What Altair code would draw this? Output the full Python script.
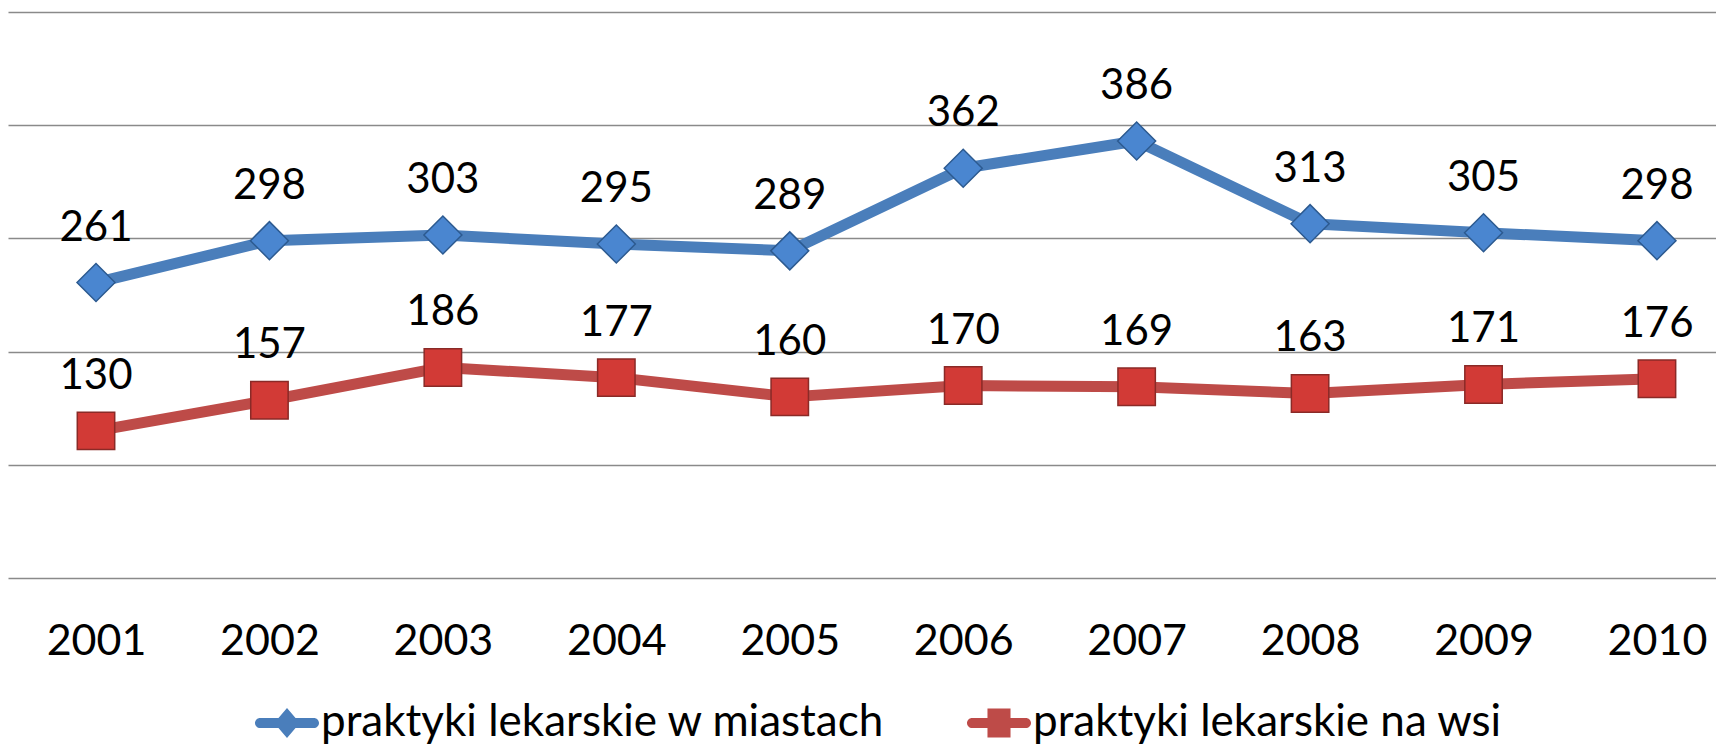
import altair as alt
import pandas as pd

years = [2001, 2002, 2003, 2004, 2005, 2006, 2007, 2008, 2009, 2010]
miasta = [261, 298, 303, 295, 289, 362, 386, 313, 305, 298]
wies = [130, 157, 186, 177, 160, 170, 169, 163, 171, 176]
series_names = ["praktyki lekarskie w miastach", "praktyki lekarskie na wsi"]
grid_values = [0, 100, 200, 300, 400, 500]

rows = []
for y, v in zip(years, miasta):
    rows.append({"year": y, "value": v, "series": series_names[0]})
for y, v in zip(years, wies):
    rows.append({"year": y, "value": v, "series": series_names[1]})
df = pd.DataFrame(rows)

BLUE_LINE = "#4A7EBB"
RED_LINE = "#BE4B48"
BLUE_FILL = "#4A86D0"
BLUE_EDGE = "#2C5A90"
RED_FILL = "#D23A36"
RED_EDGE = "#8A2A27"

FONT = "Lato"

x_dom = [2000.4926, 2010.3404]

base = alt.Chart(df).encode(
    x=alt.X(
        "year:Q",
        scale=alt.Scale(domain=x_dom, nice=False, zero=False),
        axis=alt.Axis(
            values=years, format="d", labelFont=FONT, labelFontSize=43,
            labelColor="black", ticks=False, tickSize=0, domain=False,
            grid=False, labelPadding=42, title=None, labelFlush=False,
            labelOverlap=False,
        ),
    ),
    y=alt.Y(
        "value:Q",
        scale=alt.Scale(domain=[0, 500], nice=False),
        axis=alt.Axis(
            values=grid_values, labels=False, ticks=False, domain=False,
            grid=True, gridColor="#8a8a8a", gridWidth=1.5, title=None,
        ),
    ),
)

line_path = "M-0.84,-0.16L0.84,-0.16A0.16,0.16,0,0,1,0.84,0.16L-0.84,0.16A0.16,0.16,0,0,1,-0.84,-0.16Z"
diamond_sym = line_path + "M0,-0.47L0.4,0L0,0.47L-0.4,0Z"
square_sym = line_path + "M-0.36,-0.45L0.36,-0.45L0.36,0.45L-0.36,0.45Z"

color_scale = alt.Scale(domain=series_names, range=[BLUE_LINE, RED_LINE])

legend = alt.Legend(
    title=None, orient="none", legendX=247, legendY=679, direction="horizontal",
    labelFont=FONT, labelFontSize=44, labelColor="black", symbolSize=4096,
    labelOffset=2, columnPadding=81, padding=0, labelLimit=1000,
    symbolStrokeWidth=0, symbolOpacity=1,
)

lines = base.mark_line(strokeWidth=11, strokeJoin="round").encode(
    color=alt.Color("series:N", scale=color_scale, legend=legend),
    detail="series:N",
)

legend_layer = base.transform_filter("false").mark_point(
    filled=True, opacity=1, strokeWidth=0,
).encode(
    color=alt.Color("series:N", scale=color_scale, legend=legend),
    shape=alt.Shape(
        "series:N",
        scale=alt.Scale(domain=series_names, range=[diamond_sym, square_sym]),
        legend=legend,
    ),
)

pts_blue = base.transform_filter(alt.datum.series == series_names[0]).mark_point(
    shape="diamond", filled=True, fill=BLUE_FILL, stroke=BLUE_EDGE,
    strokeWidth=1.5, size=1444, opacity=1,
)
pts_red = base.transform_filter(alt.datum.series == series_names[1]).mark_point(
    shape="square", filled=True, fill=RED_FILL, stroke=RED_EDGE,
    strokeWidth=1.5, size=1400, opacity=1,
)

labels = base.mark_text(
    font=FONT, fontSize=42, color="black", baseline="alphabetic", dy=-42,
).encode(text="value:Q")

chart = alt.layer(lines, legend_layer, pts_blue, pts_red, labels).properties(
    width=1708, height=566, autosize="none",
    padding={"left": 0, "top": 4, "right": 0, "bottom": 166},
).configure_view(stroke=None)

chart.save("out.html", embed_options={"renderer": "svg", "actions": False})
